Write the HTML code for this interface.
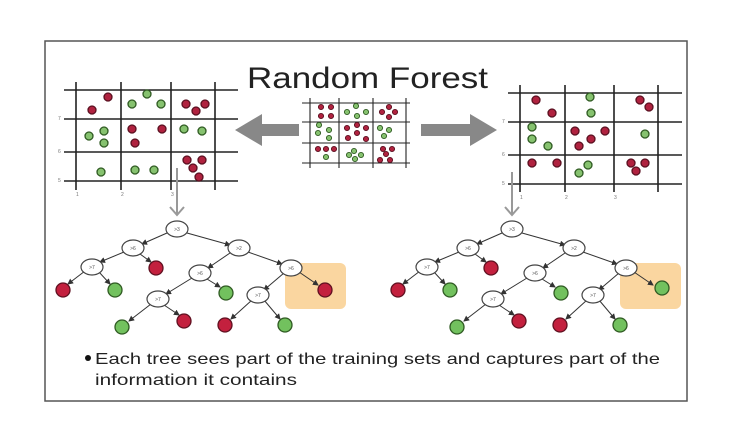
<!DOCTYPE html>
<html><head><meta charset="utf-8"><style>html,body{margin:0;padding:0;background:#fff}svg{display:block}</style></head>
<body>
<svg width="740" height="431" viewBox="0 0 740 431" xmlns="http://www.w3.org/2000/svg" font-family="Liberation Sans, sans-serif">
<defs>
<marker id="ah" markerWidth="6" markerHeight="6" refX="5" refY="3" orient="auto" markerUnits="userSpaceOnUse"><path d="M0,0 L6,3 L0,6 z" fill="#333"/></marker>
</defs>
<rect x="45" y="41" width="642" height="360" fill="#fff" stroke="#555" stroke-width="1.5"/>
<text x="247" y="88" font-size="30" fill="#222" textLength="241" lengthAdjust="spacingAndGlyphs">Random Forest</text>

<!-- left grid -->
<g stroke="#222" stroke-width="1.6">
<line x1="64" y1="90" x2="238" y2="90"/><line x1="64" y1="119" x2="238" y2="119"/><line x1="64" y1="152" x2="238" y2="152"/><line x1="64" y1="181" x2="238" y2="181"/>
<line x1="76" y1="82" x2="76" y2="190"/><line x1="121" y1="82" x2="121" y2="190"/><line x1="171" y1="82" x2="171" y2="190"/><line x1="215" y1="82" x2="215" y2="190"/>
</g>
<g font-size="5" fill="#777"><text x="58" y="120">7</text><text x="58" y="153">6</text><text x="58" y="182">5</text><text x="76" y="196">1</text><text x="121" y="196">2</text><text x="171" y="196">3</text></g>
<g stroke-width="1.3">
<g fill="#b0223f" stroke="#5a1020">
<circle cx="108" cy="97" r="4"/><circle cx="92" cy="110" r="4"/><circle cx="186" cy="104" r="4"/><circle cx="205" cy="104" r="4"/><circle cx="196" cy="111" r="4"/>
<circle cx="132" cy="129" r="4"/><circle cx="162" cy="129" r="4"/><circle cx="135" cy="143" r="4"/>
<circle cx="187" cy="160" r="4"/><circle cx="202" cy="160" r="4"/><circle cx="193" cy="168" r="4"/><circle cx="199" cy="177" r="4"/>
</g>
<g fill="#86c26f" stroke="#2f5a22">
<circle cx="147" cy="94" r="4"/><circle cx="132" cy="104" r="4"/><circle cx="161" cy="104" r="4"/>
<circle cx="89" cy="136" r="4"/><circle cx="104" cy="131" r="4"/><circle cx="104" cy="143" r="4"/><circle cx="184" cy="129" r="4"/><circle cx="202" cy="131" r="4"/>
<circle cx="101" cy="172" r="4"/><circle cx="135" cy="170" r="4"/><circle cx="154" cy="170" r="4"/>
</g>
</g>

<!-- right grid -->
<g stroke="#222" stroke-width="1.6">
<line x1="508" y1="93" x2="682" y2="93"/><line x1="508" y1="122" x2="682" y2="122"/><line x1="508" y1="155" x2="682" y2="155"/><line x1="508" y1="184" x2="682" y2="184"/>
<line x1="520" y1="85" x2="520" y2="192"/><line x1="565" y1="85" x2="565" y2="192"/><line x1="614" y1="85" x2="614" y2="192"/><line x1="658" y1="85" x2="658" y2="192"/>
</g>
<g font-size="5" fill="#777"><text x="502" y="123">7</text><text x="502" y="156">6</text><text x="502" y="185">5</text><text x="520" y="199">1</text><text x="565" y="199">2</text><text x="614" y="199">3</text></g>
<g stroke-width="1.3">
<g fill="#b0223f" stroke="#5a1020">
<circle cx="536" cy="100" r="4"/><circle cx="552" cy="113" r="4"/><circle cx="640" cy="100" r="4"/><circle cx="649" cy="107" r="4"/>
<circle cx="575" cy="131" r="4"/><circle cx="591" cy="139" r="4"/><circle cx="605" cy="131" r="4"/><circle cx="579" cy="146" r="4"/>
<circle cx="532" cy="163" r="4"/><circle cx="557" cy="163" r="4"/><circle cx="631" cy="163" r="4"/><circle cx="645" cy="163" r="4"/><circle cx="636" cy="171" r="4"/>
</g>
<g fill="#86c26f" stroke="#2f5a22">
<circle cx="590" cy="97" r="4"/><circle cx="591" cy="113" r="4"/>
<circle cx="532" cy="127" r="4"/><circle cx="532" cy="139" r="4"/><circle cx="548" cy="146" r="4"/><circle cx="645" cy="134" r="4"/>
<circle cx="588" cy="165" r="4"/><circle cx="579" cy="173" r="4"/>
</g>
</g>

<!-- middle grid -->
<g stroke="#222" stroke-width="1.1">
<line x1="302" y1="103" x2="410" y2="103"/><line x1="302" y1="122" x2="410" y2="122"/><line x1="302" y1="143" x2="410" y2="143"/><line x1="302" y1="163" x2="410" y2="163"/>
<line x1="310" y1="98" x2="310" y2="168"/><line x1="339" y1="98" x2="339" y2="168"/><line x1="373" y1="98" x2="373" y2="168"/><line x1="406" y1="98" x2="406" y2="168"/>
</g>
<g stroke-width="0.9">
<g fill="#b0223f" stroke="#5a1020">
<circle cx="321" cy="107" r="2.6"/><circle cx="331" cy="107" r="2.6"/><circle cx="321" cy="116" r="2.6"/><circle cx="331" cy="116" r="2.6"/>
<circle cx="389" cy="107" r="2.6"/><circle cx="382" cy="112" r="2.6"/><circle cx="395" cy="112" r="2.6"/><circle cx="389" cy="117" r="2.6"/>
<circle cx="357" cy="125" r="2.6"/><circle cx="347" cy="128" r="2.6"/><circle cx="366" cy="128" r="2.6"/><circle cx="357" cy="133" r="2.6"/><circle cx="348" cy="138" r="2.6"/><circle cx="366" cy="139" r="2.6"/>
<circle cx="318" cy="149" r="2.6"/><circle cx="326" cy="149" r="2.6"/><circle cx="334" cy="149" r="2.6"/>
<circle cx="383" cy="149" r="2.6"/><circle cx="392" cy="149" r="2.6"/><circle cx="386" cy="154" r="2.6"/><circle cx="380" cy="160" r="2.6"/><circle cx="390" cy="160" r="2.6"/>
</g>
<g fill="#86c26f" stroke="#2f5a22">
<circle cx="356" cy="106" r="2.6"/><circle cx="347" cy="112" r="2.6"/><circle cx="366" cy="112" r="2.6"/><circle cx="357" cy="116" r="2.6"/>
<circle cx="319" cy="125" r="2.6"/><circle cx="318" cy="133" r="2.6"/><circle cx="329" cy="130" r="2.6"/><circle cx="329" cy="138" r="2.6"/>
<circle cx="380" cy="128" r="2.6"/><circle cx="389" cy="130" r="2.6"/><circle cx="384" cy="136" r="2.6"/>
<circle cx="326" cy="157" r="2.6"/><circle cx="354" cy="151" r="2.6"/><circle cx="349" cy="155" r="2.6"/><circle cx="361" cy="155" r="2.6"/><circle cx="355" cy="159" r="2.6"/>
</g>
</g>

<!-- big arrows -->
<polygon points="235,130 262,114 262,124 299,124 299,136 262,136 262,146" fill="#888"/>
<polygon points="497,130 470,114 470,124 421,124 421,136 470,136 470,146" fill="#888"/>
<!-- down arrows -->
<g stroke="#999" stroke-width="2" fill="none">
<line x1="177" y1="168" x2="177" y2="214"/><polyline points="170,207 177,215 184,207"/>
<line x1="512" y1="172" x2="512" y2="214"/><polyline points="505,207 512,215 519,207"/>
</g>

<!-- trees -->
<g id="tree">
<rect x="285" y="263" width="61" height="46" rx="6" fill="#f9cf8f" opacity="0.85"/>
<g stroke="#333" stroke-width="1" marker-end="url(#ah)">
<line x1="167" y1="233" x2="142" y2="244"/><line x1="187" y1="233" x2="230" y2="245"/>
<line x1="124" y1="252" x2="100" y2="262"/><line x1="140" y1="254" x2="151" y2="262"/>
<line x1="230" y1="253" x2="208" y2="268"/><line x1="248" y1="252" x2="282" y2="264"/>
<line x1="85" y1="271" x2="68" y2="284"/><line x1="99" y1="272" x2="110" y2="284"/>
<line x1="192" y1="278" x2="166" y2="294"/><line x1="207" y1="279" x2="220" y2="287"/>
<line x1="284" y1="273" x2="264" y2="290"/><line x1="299" y1="272" x2="318" y2="285"/>
<line x1="151" y1="304" x2="129" y2="321"/><line x1="164" y1="305" x2="179" y2="315"/>
<line x1="252" y1="300" x2="231" y2="319"/><line x1="264" y1="300" x2="280" y2="319"/>
</g>
<g fill="#fff" stroke="#444" stroke-width="1.2">
<ellipse cx="177" cy="229" rx="11" ry="8"/><ellipse cx="133" cy="248" rx="11" ry="8"/><ellipse cx="239" cy="248" rx="11" ry="8"/>
<ellipse cx="92" cy="267" rx="11" ry="8"/><ellipse cx="200" cy="273" rx="11" ry="8"/><ellipse cx="291" cy="268" rx="11" ry="8"/>
<ellipse cx="158" cy="299" rx="11" ry="8"/><ellipse cx="258" cy="295" rx="11" ry="8"/>
</g>
<g font-size="5" fill="#555" text-anchor="middle">
<text x="177" y="231">&gt;3</text><text x="133" y="250">&gt;6</text><text x="239" y="250">&gt;2</text>
<text x="92" y="269">&gt;7</text><text x="200" y="275">&gt;6</text><text x="291" y="270">&gt;6</text>
<text x="158" y="301">&gt;7</text><text x="258" y="297">&gt;7</text>
</g>
<g stroke-width="1.3">
<g fill="#c3203e" stroke="#601020">
<circle cx="156" cy="268" r="7"/><circle cx="63" cy="290" r="7"/><circle cx="184" cy="321" r="7"/><circle cx="225" cy="325" r="7"/>
</g>
<g fill="#72c15e" stroke="#2f5a22">
<circle cx="115" cy="290" r="7"/><circle cx="226" cy="293" r="7"/><circle cx="122" cy="327" r="7"/><circle cx="285" cy="325" r="7"/>
</g>
</g>
</g>
<circle cx="325" cy="290" r="7" fill="#c3203e" stroke="#601020" stroke-width="1.3"/>
<use href="#tree" transform="translate(335,0)"/>
<circle cx="662" cy="288" r="7" fill="#72c15e" stroke="#2f5a22" stroke-width="1.3"/>

<circle cx="88" cy="358" r="3" fill="#111"/>
<text x="95" y="364" font-size="16" fill="#222" textLength="565" lengthAdjust="spacingAndGlyphs">Each tree sees part of the training sets and captures part of the</text>
<text x="95" y="385" font-size="16" fill="#222" textLength="202" lengthAdjust="spacingAndGlyphs">information it contains</text>
</svg>
</body></html>
